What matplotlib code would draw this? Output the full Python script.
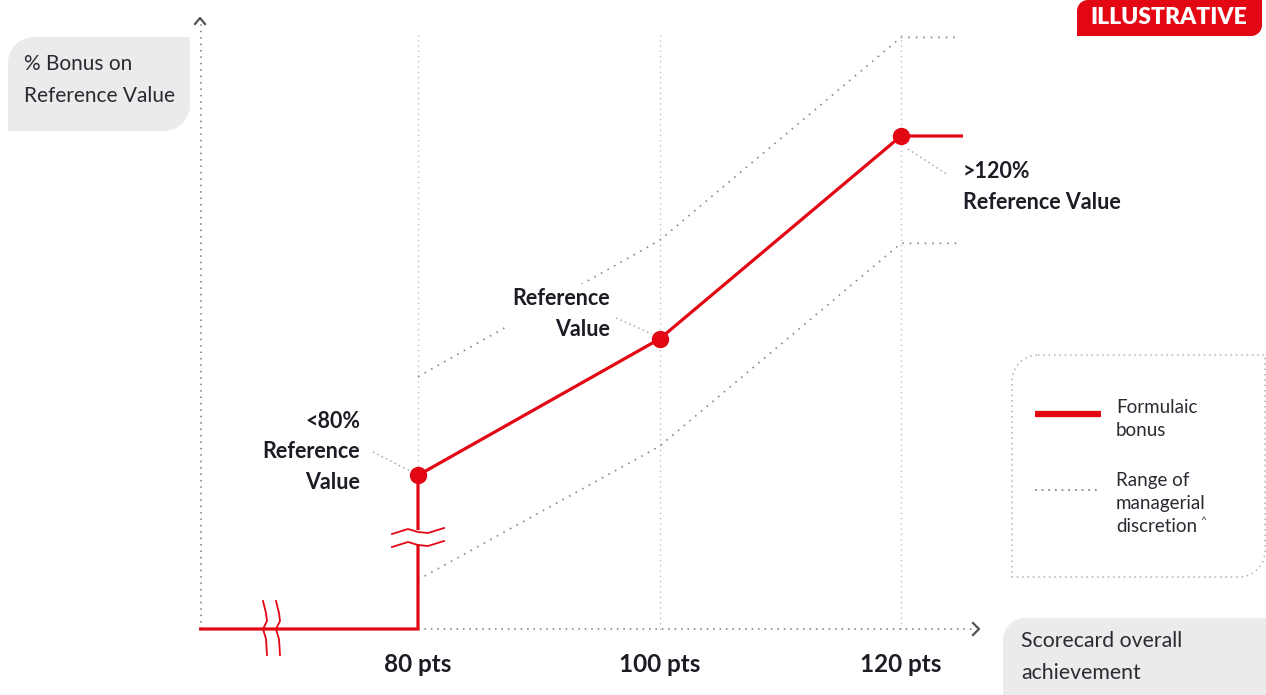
import numpy as np
import matplotlib
matplotlib.use("Agg")
import matplotlib.pyplot as plt
from matplotlib.patches import PathPatch
from matplotlib.path import Path

# ---------------- data ----------------
score_pts = [80, 100, 120]
score_labels = ["80 pts", "100 pts", "120 pts"]
formulaic_bonus = [53, 100, 170]      # illustrative % bonus units
discretion_upper = [87, 134, 204]
discretion_lower = [17, 63, 133]
axis_start_pts = 62
cap_end_pts = 125
grid_top = 205
point_labels = ["<80%\nReference\nValue", "Reference\nValue", ">120%\nReference Value"]

RED = "#e30613"
TXT = "#1c1c24"
GREYBOX = "#ebebeb"
DOT = "#8a8a8a"
FONT = ["Lato", "DejaVu Sans"]
plt.rcParams["font.family"] = FONT

W, H = 1266, 695
fig = plt.figure(figsize=(W / 100, H / 100), dpi=100)
ax = fig.add_axes([0, 0, 1, 1])
sx, sy = 12.075, 2.9          # pixels per unit
x0px, y0px = 418, 629
ax.set_xlim(80 - x0px / sx, 80 + (W - x0px) / sx)
ax.set_ylim(-(H - y0px) / sy, y0px / sy)
ax.axis("off")


def P(px, py):
    """pixel position -> data coordinates (for layout decorations)"""
    return 80 + (px - x0px) / sx, (y0px - py) / sy


def rrect(x0, y0, x1, y1, rtl, rbr, n=20):
    pts = [(x0 + rtl, y0), (x1, y0), (x1, y1 - rbr)]
    cx, cy = x1 - rbr, y1 - rbr
    for t in np.linspace(0, np.pi / 2, n):
        pts.append((cx + rbr * np.cos(t), cy + rbr * np.sin(t)))
    pts += [(x0, y1), (x0, y0 + rtl)]
    cx, cy = x0 + rtl, y0 + rtl
    for t in np.linspace(np.pi, 1.5 * np.pi, n):
        pts.append((cx + rtl * np.cos(t), cy + rtl * np.sin(t)))
    pts.append(pts[0])
    return Path([P(*p) for p in pts])


dot_style = (0, (1, 3.5))
grid_style = (0, (1, 3.2))

# ---------------- grid / axes ----------------
for x in score_pts:
    ax.plot([x, x], [0, grid_top], color="#b5b5b5", lw=0.9, ls=grid_style, zorder=1)

ytop = P(0, 22)[1]
ax.plot([axis_start_pts, axis_start_pts], [0, ytop], color="#777", lw=1.1, ls=grid_style, zorder=1)
xr = P(975, 0)[0]
ax.plot([80, xr], [0, 0], color="#777", lw=1.1, ls=grid_style, zorder=1)
# arrow heads
ax.plot(*zip(P(195, 24), P(200, 18), P(205, 24)), color="#555", lw=1.6, zorder=2)
ax.plot(*zip(P(973, 623), P(979, 629), P(973, 635)), color="#555", lw=1.6, zorder=2)

# ---------------- discretion range ----------------
ux = score_pts + [cap_end_pts - 0.2]
ax.plot(ux, discretion_upper + [discretion_upper[-1]], color=DOT, lw=1.2, ls=dot_style, zorder=2)
ax.plot(ux, discretion_lower + [discretion_lower[-1]], color=DOT, lw=1.2, ls=dot_style, zorder=2)

# ---------------- formulaic bonus ----------------
fx = [axis_start_pts, score_pts[0], score_pts[0]] + score_pts[1:] + [cap_end_pts]
fy = [0, 0, formulaic_bonus[0]] + formulaic_bonus[1:] + [formulaic_bonus[-1]]
ax.plot(fx, fy, color=RED, lw=2.3, solid_joinstyle="miter", zorder=4)
ax.plot(score_pts, formulaic_bonus, "o", color=RED, ms=11.5, zorder=5)

# break on vertical segment (white gap + wave marks)
g0 = P(418, 545)[1]
g1 = P(418, 530)[1]
ax.plot([80, 80], [g0, g1], color="white", lw=4, solid_capstyle="butt", zorder=5)
wave = [(-26, 4), (-10, -1), (0, 2), (10, 3), (26, -2)]
for dy in (530, 543):
    ax.plot(*zip(*[P(418 + a, dy + b) for a, b in wave]), color=RED, lw=1.3, zorder=6)
# break on horizontal segment
zz = [(0, -28), (3, -16), (4, -8), (0, 0), (3, 10), (4, 26)]
for dx in (263, 276):
    ax.plot(*zip(*[P(dx + a, 629 + b) for a, b in zz]), color=RED, lw=1.3, zorder=6)

# ---------------- annotations ----------------
lbl_kw = dict(fontsize=15.5, fontweight="bold", color=TXT, linespacing=1.55, zorder=7)
ax.text(*P(360, 452), point_labels[0], ha="right", va="center", **lbl_kw)
ax.text(*P(610, 314), point_labels[1], ha="right", va="center",
        bbox=dict(boxstyle="square,pad=0.2", fc="white", ec="none"), **lbl_kw)
ax.text(*P(963, 187), point_labels[2], ha="left", va="center", **lbl_kw)
for a, b in [((373, 452), (410, 471)), ((616, 318), (652, 334)), ((908, 149), (948, 175))]:
    ax.plot(*zip(P(*a), P(*b)), color="#9a9a9a", lw=1.0, ls=(0, (1, 2.5)), zorder=3)

for x, lab in zip(score_pts, score_labels):
    ax.text(x, P(0, 665)[1], lab, ha="center", va="center",
            fontsize=17.5, fontweight="bold", color=TXT)

# ---------------- axis title boxes ----------------
ax.add_patch(PathPatch(rrect(8, 37, 190, 131, 26, 26), fc=GREYBOX, ec="none", zorder=0))
ax.text(*P(24, 80), "% Bonus on\nReference Value", ha="left", va="center",
        fontsize=15, color="#2a2a33", linespacing=1.73)
ax.add_patch(PathPatch(rrect(1003, 618, 1290, 720, 22, 22), fc=GREYBOX, ec="none", zorder=0))
ax.text(*P(1021, 657), "Scorecard overall\nachievement", ha="left", va="center",
        fontsize=15.3, color="#2a2a33", linespacing=1.76)

# ---------------- badge ----------------
ax.add_patch(PathPatch(rrect(1077, 0, 1262, 36, 11, 11), fc=RED, ec="none", zorder=0))
ax.text(*P(1169, 18), "ILLUSTRATIVE", ha="center", va="center", fontsize=16.5,
        fontweight="heavy", color="white")

# ---------------- legend ----------------
ax.add_patch(PathPatch(rrect(1012, 355, 1265, 577, 26, 26), fc="none", ec="#b0b0b0",
                       lw=1.1, ls=(0, (1, 2.5)), zorder=1))
ax.plot(*zip(P(1035, 414), P(1101, 414)), color=RED, lw=4.5, solid_capstyle="butt")
ax.plot(*zip(P(1035, 490), P(1101, 490)), color="#777", lw=1.2, ls=(0, (1, 3)))
ax.text(*P(1116, 419), "Formulaic\nbonus", ha="left", va="center", fontsize=13.5,
        color="#2a2a33", linespacing=1.4)
ax.text(*P(1116, 492), "Range of\nmanagerial", ha="left", va="center",
        fontsize=13.5, color="#2a2a33", linespacing=1.4)
ax.text(*P(1116, 527), "discretion", ha="left", va="center",
        fontsize=13.5, color="#2a2a33")
ax.text(*P(1200, 520), "^", ha="left", va="center", fontsize=7.5, color="#2a2a33")

fig.savefig("out.png", dpi=100)
